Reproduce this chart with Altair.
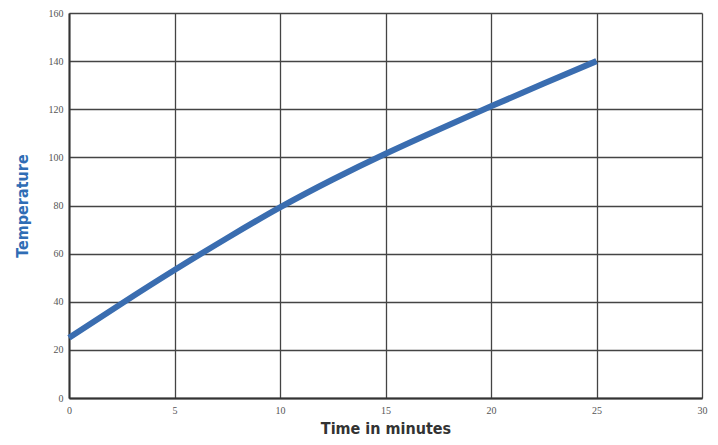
import altair as alt
import pandas as pd

minutes = [0, 2.5, 5, 7.5, 10, 12.5, 15, 17.5, 20, 22.5, 25]
temperature = [25, 39.3, 53.2, 66.5, 79.2, 90.8, 101.5, 111.5, 121.2, 130.7, 140]

x_ticks = [0, 5, 10, 15, 20, 25, 30]
y_ticks = [0, 20, 40, 60, 80, 100, 120, 140, 160]

df = pd.DataFrame({"minutes": minutes, "temperature": temperature})

chart = alt.Chart(df).mark_line(
    color="#3a6db0", strokeWidth=6, interpolate="natural", strokeCap="butt"
).encode(
    x=alt.X("minutes:Q",
            scale=alt.Scale(domain=[0, 30], nice=False),
            axis=alt.Axis(values=x_ticks, title="Time in minutes",
                          titleFont="DejaVu Sans Condensed", titleFontSize=16,
                          titleFontWeight="bold", titleColor="#333333",
                          titlePadding=5, labelFont="Liberation Serif",
                          labelFontSize=10, labelColor="#555555",
                          labelPadding=7, ticks=False, domainColor="#333333",
                          domainWidth=2, gridColor="#444444", gridWidth=1.3,
                          labelFlush=False)),
    y=alt.Y("temperature:Q",
            scale=alt.Scale(domain=[0, 160], nice=False),
            axis=alt.Axis(values=y_ticks, title="Temperature",
                          titleFont="DejaVu Sans Condensed", titleFontSize=16,
                          titleFontWeight="bold", titleColor="#2f6db5",
                          titlePadding=18, labelFont="Liberation Serif",
                          labelFontSize=10, labelColor="#555555",
                          labelPadding=6, ticks=False, domainColor="#333333",
                          domainWidth=2, gridColor="#444444", gridWidth=1.3)),
).properties(
    width=633, height=385,
    autosize=alt.AutoSizeParams(type="none"),
    padding={"left": 61, "top": 5, "right": 8, "bottom": 44},
).configure_view(stroke=None)

chart.save("out.html", embed_options={"renderer": "svg", "actions": False})
